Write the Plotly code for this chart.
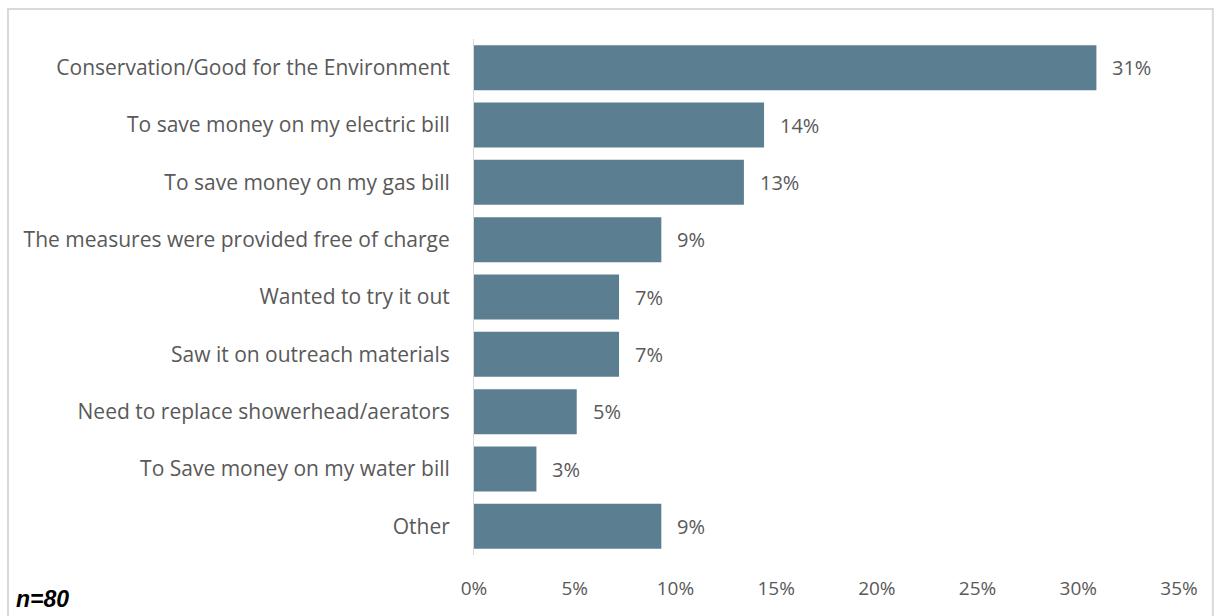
import plotly.graph_objects as go

# Reasons for installing the measures (share of 97 responses)
reasons = [
    "Conservation/Good for the Environment",
    "To save money on my electric bill",
    "To save money on my gas bill",
    "The measures were provided free of charge",
    "Wanted to try it out",
    "Saw it on outreach materials",
    "Need to replace showerhead/aerators",
    "To Save money on my water bill",
    "Other",
]
shares = [30.9, 14.4, 13.4, 9.3, 7.2, 7.2, 5.1, 3.1, 9.3]
tick_vals = [0, 5, 10, 15, 20, 25, 30, 35]
tick_text = ["0%", "5%", "10%", "15%", "20%", "25%", "30%", "35%"]
sample_note = "n=80"

BAR_COLOR = "#5b7e91"
TEXT_COLOR = "#595959"
FONT = "Open Sans"

fig = go.Figure(
    go.Bar(
        x=shares,
        y=reasons,
        orientation="h",
        marker=dict(color=BAR_COLOR, line=dict(width=0)),
        hoverinfo="skip",
    )
)

# Value labels just past the end of each bar
for r, v in zip(reasons, shares):
    fig.add_annotation(
        x=v, y=r, xref="x", yref="y",
        text=f"{v:.0f}%", showarrow=False,
        xanchor="left", yanchor="middle", xshift=14,
        font=dict(family=FONT, size=20, color=TEXT_COLOR),
    )

# Sample size note in the lower-left corner
fig.add_annotation(
    x=-0.653, y=-0.085, xref="paper", yref="paper",
    text=f"<b><i>{sample_note}</i></b>", showarrow=False,
    xanchor="left", yanchor="middle",
    font=dict(family="Liberation Sans", size=23, color="#000000"),
)

# Light frame around the whole chart
fig.add_shape(
    type="rect", xref="paper", yref="paper",
    x0=-0.661, x1=1.048, y0=-0.13, y1=1.058,
    line=dict(color="#d9d9d9", width=2), fillcolor="rgba(0,0,0,0)",
    layer="below",
)

fig.update_layout(
    width=1217, height=616,
    margin=dict(l=474, r=38, t=39, b=61, autoexpand=False),
    paper_bgcolor="white", plot_bgcolor="white",
    bargap=0.215,
    showlegend=False,
    font=dict(family=FONT, size=20, color=TEXT_COLOR),
    xaxis=dict(
        range=[0, 35], tickvals=tick_vals, ticktext=tick_text,
        showgrid=False, zeroline=False, showline=False,
        ticks="", ticklabelstandoff=20,
        tickfont=dict(family=FONT, size=19, color=TEXT_COLOR),
        fixedrange=True,
    ),
    yaxis=dict(
        autorange="reversed",
        showgrid=False, zeroline=False,
        showline=True, linecolor="#d9d9d9", linewidth=1,
        ticks="", ticklabelstandoff=19,
        tickfont=dict(family=FONT, size=21, color=TEXT_COLOR),
        fixedrange=True,
    ),
)

fig.write_html("out.html")
